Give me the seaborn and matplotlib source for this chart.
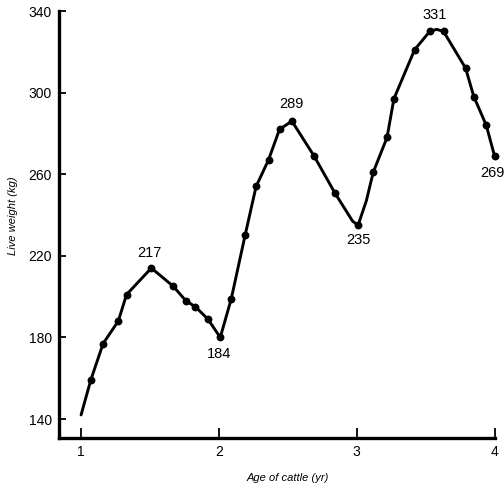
'''
Live weight of cattle by age (hand drawn growth curve)
'''
# %% Data
import pandas as pd
import seaborn as sns
import matplotlib.pyplot as plt

# Measured points (dots)
age_pts = [1.07, 1.16, 1.27, 1.33, 1.51, 1.67, 1.76, 1.83, 1.92, 2.01,
           2.09, 2.19, 2.27, 2.36, 2.44, 2.53, 2.69, 2.84, 3.01, 3.12,
           3.22, 3.27, 3.42, 3.53, 3.63, 3.79, 3.85, 3.94, 4.00]
weight_pts = [159, 177, 188, 201, 214, 205, 198, 195, 189, 180,
              199, 230, 254, 267, 282, 286, 269, 251, 235, 261,
              278, 297, 321, 330, 330, 312, 298, 284, 269]

# Extra points (start, bottom at 235, top at 331)
age_curve_extra = [1.00, 2.97, 3.07, 3.58]
weight_curve_extra = [142, 237, 247, 331]

# Labelled turning points
label_text = ['217', '184', '289', '235', '331', '269']
label_idx = [4, 9, 15, 18, 23, 28]

ytick_vals = [140, 180, 220, 260, 300, 340]
xtick_vals = [1, 2, 3, 4]

dfpts = pd.DataFrame({'Age': age_pts, 'Weight': weight_pts})
dfcurve = pd.concat([
    dfpts,
    pd.DataFrame({'Age': age_curve_extra, 'Weight': weight_curve_extra})
]).sort_values('Age').reset_index(drop=True)

# %% Plot
sns.set_style('ticks', {'axes.edgecolor': 'black', 'text.color': 'black',
                        'xtick.color': 'black', 'ytick.color': 'black',
                        'axes.labelcolor': 'black'})
plt.rcParams['font.family'] = ['Liberation Sans', 'DejaVu Sans']

fig = plt.figure(figsize=(5.04, 4.87), dpi=100)
ax = fig.add_axes([0.1171, 0.1006, 0.9812 - 0.1171, 0.9774 - 0.1006])

sns.lineplot(ax=ax, data=dfcurve, x='Age', y='Weight', sort=False,
             estimator=None, color='black', linewidth=2.1, clip_on=False)
sns.scatterplot(ax=ax, data=dfpts, x='Age', y='Weight', color='black',
                s=32, edgecolor='black', linewidth=0, clip_on=False, zorder=3)

# Value labels next to the turning points (offsets in points)
label_offset = [(-1.4, 11), (-0.7, -12), (0, 12.6), (0.4, -10.8), (3.4, 12), (-1.2, -12.2)]
for txt, i, off in zip(label_text, label_idx, label_offset):
    ax.annotate(txt, xy=(age_pts[i], weight_pts[i]), xytext=off,
                textcoords='offset points', ha='center', va='center',
                fontsize=10.5, color='black', annotation_clip=False)

ax.set_xlim(0.84, 4.0)
ax.set_ylim(130.7, 340)
ax.set_xticks(xtick_vals)
ax.set_yticks(ytick_vals)
ax.tick_params(axis='both', direction='in', width=1.3, labelsize=10, pad=5)
ax.tick_params(axis='y', length=5)
ax.tick_params(axis='x', length=7)

for side in ['top', 'right']:
    ax.spines[side].set_visible(False)
for side in ['left', 'bottom']:
    ax.spines[side].set_linewidth(2.4)

ax.set_xlabel('Age of cattle (yr)', fontsize=8, style='italic')
ax.set_ylabel('Live weight (kg)', fontsize=8, style='italic')
ax.xaxis.set_label_coords(0.526, -0.082)
ax.yaxis.set_label_coords(-0.094, 0.52)

fig.savefig('out.png', dpi=100)
